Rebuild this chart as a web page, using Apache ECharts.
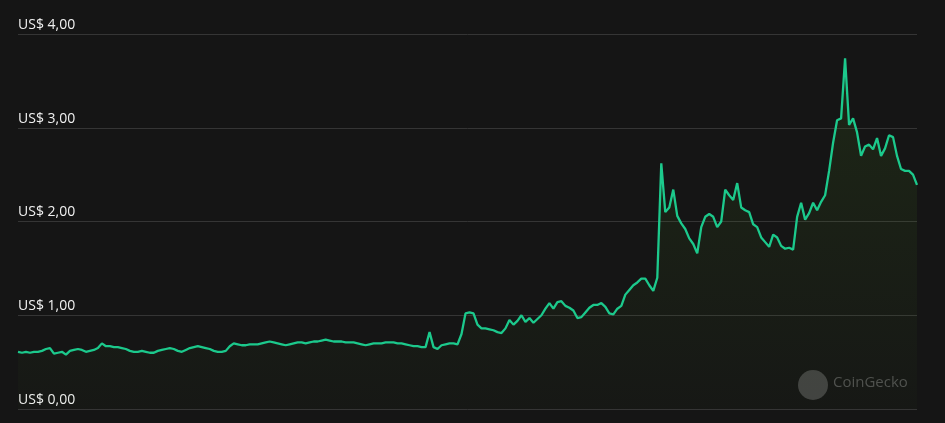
<!DOCTYPE html>
<html>
<head>
<meta charset="utf-8">
<script src="https://cdn.jsdelivr.net/npm/echarts@6/dist/echarts.min.js"></script>
<style>
html,body{margin:0;padding:0;background:#151515;}
#chart{width:945px;height:423px;}
</style>
</head>
<body>
<div id="chart"></div>
<script>
// Price series (USD), evenly spaced samples, oldest to newest
const prices = [
0.61,0.60,0.61,0.60,0.61,0.61,0.62,0.64,0.65,0.59,
0.60,0.61,0.58,0.62,0.63,0.64,0.63,0.61,0.62,0.63,
0.65,0.70,0.67,0.67,0.66,0.66,0.65,0.64,0.62,0.61,
0.61,0.62,0.61,0.60,0.60,0.62,0.63,0.64,0.65,0.64,
0.62,0.61,0.63,0.65,0.66,0.67,0.66,0.65,0.64,0.62,
0.61,0.61,0.62,0.67,0.70,0.69,0.68,0.68,0.69,0.69,
0.69,0.70,0.71,0.72,0.71,0.70,0.69,0.68,0.69,0.70,
0.71,0.71,0.70,0.71,0.72,0.72,0.73,0.74,0.73,0.72,
0.72,0.72,0.71,0.71,0.71,0.70,0.69,0.68,0.69,0.70,
0.70,0.70,0.71,0.71,0.71,0.70,0.70,0.69,0.68,0.67,
0.67,0.66,0.66,0.82,0.66,0.64,0.68,0.69,0.70,0.70,
0.69,0.80,1.02,1.03,1.02,0.90,0.86,0.86,0.85,0.84,
0.82,0.81,0.86,0.95,0.90,0.94,1.00,0.93,0.97,0.92,
0.96,1.00,1.07,1.13,1.07,1.14,1.15,1.10,1.08,1.05,
0.97,0.98,1.03,1.08,1.11,1.11,1.13,1.09,1.02,1.01,
1.07,1.10,1.22,1.27,1.32,1.35,1.39,1.39,1.32,1.26,
1.40,2.62,2.10,2.15,2.34,2.06,1.98,1.92,1.82,1.76,
1.66,1.94,2.05,2.08,2.05,1.94,2.00,2.34,2.28,2.23,
2.41,2.15,2.12,2.10,1.97,1.94,1.83,1.78,1.73,1.86,
1.83,1.74,1.71,1.72,1.70,2.05,2.20,2.02,2.09,2.20,
2.12,2.21,2.28,2.54,2.84,3.08,3.10,3.74,3.03,3.10,
2.95,2.70,2.80,2.82,2.77,2.89,2.70,2.78,2.92,2.90,
2.70,2.56,2.54,2.54,2.50,2.39
];
const sampleIndex = prices.map((_, i) => i);
const yTicks = [0, 1, 2, 3, 4];
const currencyPrefix = 'US$ ';
const watermarkText = 'CoinGecko';

const chart = echarts.init(document.getElementById('chart'));
chart.setOption({
  backgroundColor: '#151515',
  animation: false,
  grid: { left: 18, right: 28, top: 34, bottom: 14 },
  xAxis: {
    type: 'category',
    data: sampleIndex,
    boundaryGap: false,
    show: false
  },
  yAxis: {
    type: 'value',
    min: yTicks[0],
    max: yTicks[yTicks.length - 1],
    interval: 1,
    axisLine: { show: false },
    axisTick: { show: false },
    splitLine: { lineStyle: { color: '#353535', width: 1 } },
    axisLabel: {
      inside: true,
      margin: 0,
      verticalAlign: 'bottom',
      padding: [0, 0, 2, 0],
      color: '#f0f0f0',
      fontFamily: 'Open Sans',
      fontSize: 14,
      formatter: v => currencyPrefix + v.toFixed(2).replace('.', ',')
    }
  },
  graphic: [
    {
      type: 'circle',
      shape: { cx: 813, cy: 385, r: 15 },
      style: { fill: '#424242' },
      z: 0
    },
    {
      type: 'text',
      left: 833,
      top: 375,
      style: { text: watermarkText, fill: '#505050', font: '15px "Open Sans"' },
      z: 0
    }
  ],
  series: [{
    type: 'line',
    data: prices,
    showSymbol: false,
    symbol: 'none',
    lineStyle: { color: '#1cc98c', width: 2.3 },
    areaStyle: {
      color: new echarts.graphic.LinearGradient(0, 0, 0, 1, [
        { offset: 0, color: 'rgba(70,125,30,0.25)' },
        { offset: 1, color: 'rgba(70,125,30,0.04)' }
      ])
    },
    z: 2
  }]
});
</script>
</body>
</html>
